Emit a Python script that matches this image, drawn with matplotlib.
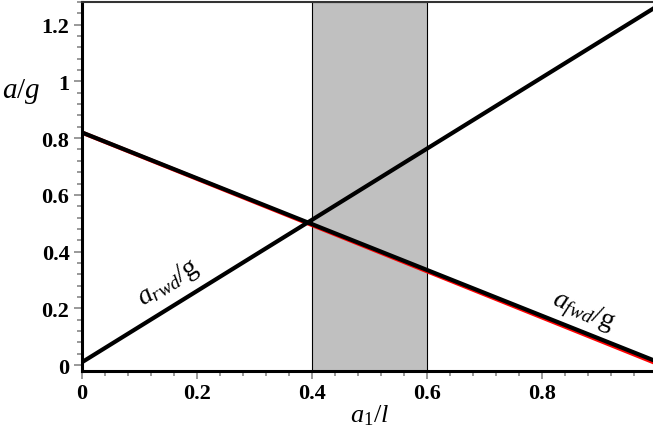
import matplotlib
matplotlib.use("Agg")
import matplotlib.pyplot as plt
from matplotlib.ticker import MultipleLocator, FuncFormatter

plt.rcParams['font.family'] = ['Liberation Serif', 'DejaVu Serif']
plt.rcParams['mathtext.fontset'] = 'custom'
plt.rcParams['mathtext.it'] = 'Liberation Serif:italic'
plt.rcParams['mathtext.rm'] = 'Liberation Serif'
plt.rcParams['mathtext.bf'] = 'Liberation Serif:bold'

# data
x_ratio = [0.0, 1.0]
a_rwd = [0.01, 1.265]
a_fwd = [0.82, 0.012]
a_fwd_red = [0.8195, 0.005]
shade_range = [0.4, 0.6]
x_ticks = [0, 0.2, 0.4, 0.6, 0.8, 1.0]
y_ticks = [0, 0.2, 0.4, 0.6, 0.8, 1.0, 1.2]

fig = plt.figure(figsize=(6.53, 4.31), dpi=100)
ax = fig.add_axes([82/653, 1-372/431, 575/653, 369/431])

ax.axvspan(shade_range[0], shade_range[1], facecolor='#c0c0c0', edgecolor='black', linewidth=0.8, zorder=1)
ax.plot(x_ratio, a_fwd_red, color='red', lw=3, zorder=2, solid_capstyle='butt')
ax.plot(x_ratio, a_fwd, color='black', lw=3, zorder=3, solid_capstyle='butt')
ax.plot(x_ratio, a_rwd, color='black', lw=3, zorder=3, solid_capstyle='butt')

ax.set_xlim(0, 1.0)
ax.set_ylim(-0.021, 1.28)

ax.set_xticks(x_ticks)
ax.set_yticks(y_ticks)
ax.xaxis.set_minor_locator(MultipleLocator(0.04))
ax.yaxis.set_minor_locator(MultipleLocator(0.04))
fmt = FuncFormatter(lambda v, p: f"{v:g}")
ax.xaxis.set_major_formatter(fmt)
ax.yaxis.set_major_formatter(fmt)
ax.tick_params(which='major', direction='out', length=6, width=1.2, color='#888888', labelsize=16, pad=3)
ax.tick_params(which='minor', direction='out', length=3.5, width=1.2, color='#888888')
for lab in ax.get_xticklabels() + ax.get_yticklabels():
    lab.set_fontweight('bold')

ax.spines['left'].set_linewidth(2.2)
ax.spines['bottom'].set_linewidth(2.2)
ax.spines['top'].set_linewidth(1.5)
ax.spines['top'].set_color('#333333')
ax.spines['right'].set_visible(False)

ax.set_xlabel(r'$a_{1}/l$', fontsize=19)
ax.xaxis.set_label_coords(0.5, -0.085)
ax.set_ylabel(r'$a/g$', fontsize=21, rotation=0)
ax.yaxis.set_label_coords(-0.105, 0.72)

ax.text(0.15, 0.293, r'$a_{rwd}/\mathrm{g}$', fontsize=20, rotation=32, ha='center', va='center')
ax.text(0.871, 0.19, r'$a_{fwd}/\mathrm{g}$', fontsize=20, rotation=-23, ha='center', va='center')

fig.savefig('out.png', dpi=100)
